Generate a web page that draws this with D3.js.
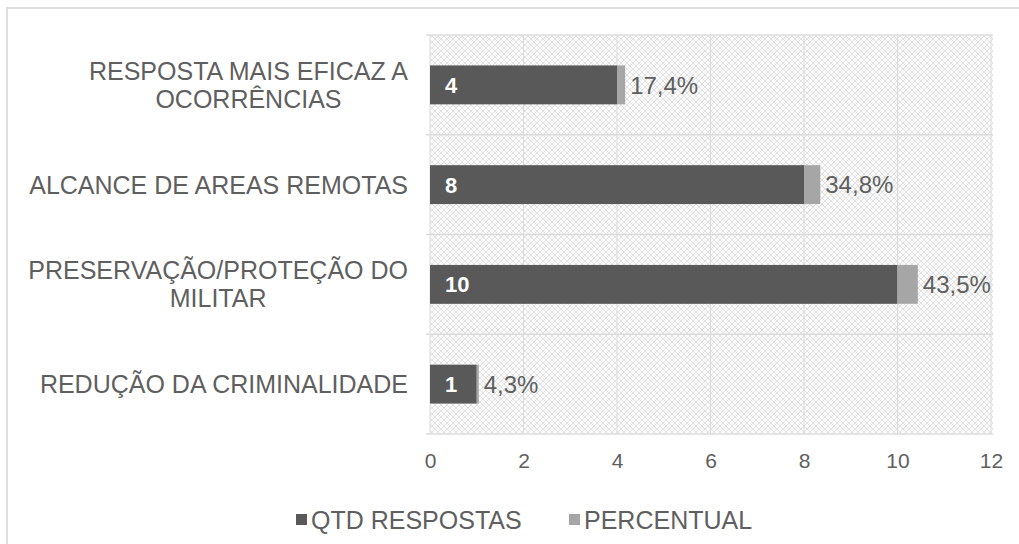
<!DOCTYPE html>
<html>
<head>
<meta charset="utf-8">
<script src="https://cdn.jsdelivr.net/npm/d3@7"></script>
<style>
  html, body { margin: 0; padding: 0; background: #fff; }
  svg { display: block; font-family: "Liberation Sans", Arial, sans-serif; }
</style>
</head>
<body>
<svg id="chart" width="1019" height="544"></svg>
<script>
// categories, top to bottom (each split in the lines shown on the axis)
const categories = [
    ["RESPOSTA MAIS EFICAZ A", "OCORRÊNCIAS"],
    ["ALCANCE DE AREAS REMOTAS"],
    ["PRESERVAÇÃO/PROTEÇÃO DO", "MILITAR"],
    ["REDUÇÃO DA CRIMINALIDADE"]
];
const qtdRespostas = [4, 8, 10, 1];
const percentual = [0.174, 0.348, 0.435, 0.043];
const xTicks = [0, 2, 4, 6, 8, 10, 12];
const seriesNames = ["QTD RESPOSTAS", "PERCENTUAL"];

const width = 1019, height = 544;
const margin = { top: 35, left: 430, right: 28, bottom: 110 };
const colors = ['#595959', '#a6a6a6'];
const textColor = '#5f5f5f';

const svg = d3.select('#chart');

// hatch pattern for the plot area
const defs = svg.append('defs');
const pat = defs.append('pattern')
    .attr('id', 'hatch')
    .attr('patternUnits', 'userSpaceOnUse')
    .attr('width', 6)
    .attr('height', 6);
pat.append('rect').attr('width', 6).attr('height', 6).attr('fill', '#fafafa');
pat.append('path')
    .attr('d', 'M0,6 L6,0 M-1,1 L1,-1 M5,7 L7,5 M0,0 L6,6 M-1,5 L1,7 M5,-1 L7,1')
    .attr('stroke', '#e2e2e2')
    .attr('stroke-width', 1);

// outer chart border
svg.append('rect')
    .attr('x', 7).attr('y', 8)
    .attr('width', width + 20).attr('height', height + 20)
    .attr('fill', 'none')
    .attr('stroke', '#dedede')
    .attr('stroke-width', 2);

const keys = categories.map(c => c.join(' '));
const rows = keys.map((k, i) => ({ key: k, qtd: qtdRespostas[i], pct: percentual[i] }));

const xScale = d3.scaleLinear()
    .domain([0, 12])
    .range([margin.left, 991]);
const yScale = d3.scaleBand()
    .domain(keys)
    .range([margin.top, 434])
    .padding(0);

const x0 = xScale.range()[0], x1 = xScale.range()[1];
const y0 = yScale.range()[0], y1 = yScale.range()[1];

// plot background
svg.append('rect')
    .attr('x', x0).attr('y', y0)
    .attr('width', x1 - x0 + 2).attr('height', y1 - y0)
    .attr('fill', 'url(#hatch)');

// vertical grid lines
svg.append('g')
    .selectAll('line')
    .data(xTicks)
    .join('line')
    .attr('x1', d => xScale(d)).attr('x2', d => xScale(d))
    .attr('y1', y0).attr('y2', y1)
    .attr('stroke', '#dcdcdc')
    .attr('stroke-width', 1);

// horizontal grid lines (category boundaries)
const bounds = keys.map(k => yScale(k)).concat([y1]);
svg.append('g')
    .selectAll('line')
    .data(bounds)
    .join('line')
    .attr('x1', x0 - 4).attr('x2', x1 + 2)
    .attr('y1', d => d).attr('y2', d => d)
    .attr('stroke', '#dcdcdc')
    .attr('stroke-width', 1.5);

// stacked bars
const stack = d3.stack().keys(['qtd', 'pct']);
const series = stack(rows);
const barH = yScale.bandwidth() * 0.39;

svg.append('g')
    .selectAll('g')
    .data(series)
    .join('g')
    .attr('fill', (d, i) => colors[i])
    .selectAll('rect')
    .data(d => d)
    .join('rect')
    .attr('x', d => xScale(d[0]))
    .attr('y', d => yScale(d.data.key) + (yScale.bandwidth() - barH) / 2)
    .attr('width', d => xScale(d[1]) - xScale(d[0]))
    .attr('height', barH);

// value labels inside the dark bars
svg.append('g')
    .selectAll('text')
    .data(rows)
    .join('text')
    .attr('x', xScale(0) + 15)
    .attr('y', d => yScale(d.key) + yScale.bandwidth() / 2)
    .attr('dy', '0.36em')
    .attr('fill', '#ffffff')
    .attr('font-weight', 'bold')
    .attr('font-size', '22px')
    .text(d => d.qtd);

// percent labels after the bars
const fmtPct = v => d3.format('.1%')(v).replace('.', ',');
svg.append('g')
    .selectAll('text')
    .data(rows)
    .join('text')
    .attr('x', d => xScale(d.qtd + d.pct) + 5)
    .attr('y', d => yScale(d.key) + yScale.bandwidth() / 2)
    .attr('dy', '0.36em')
    .attr('fill', textColor)
    .attr('font-size', '24px')
    .text(d => fmtPct(d.pct));

// x axis tick labels
const xAxis = d3.axisBottom(xScale)
    .tickValues(xTicks)
    .tickSize(0)
    .tickPadding(0)
    .tickFormat(d3.format('d'));
const xAxisGroup = svg.append('g')
    .attr('transform', `translate(0,${y1 + 19})`)
    .call(xAxis);
xAxisGroup.select('.domain').remove();
xAxisGroup.selectAll('text')
    .attr('fill', textColor)
    .attr('font-size', '21px')
    .attr('font-family', '"Liberation Sans", Arial, sans-serif');

// category labels: block right aligned, lines centred within the block
const labelRight = 408;
const lineH = 28;
const catG = svg.append('g');
categories.forEach((lines, i) => {
    const cy = yScale(keys[i]) + yScale.bandwidth() / 2;
    const g = catG.append('g');
    const texts = lines.map((line, j) => g.append('text')
        .attr('y', cy + (j - (lines.length - 1) / 2) * lineH)
        .attr('dy', '0.36em')
        .attr('fill', textColor)
        .attr('font-size', '25px')
        .attr('text-anchor', 'middle')
        .text(line));
    const maxW = d3.max(texts, t => t.node().getComputedTextLength());
    texts.forEach(t => t.attr('x', labelRight - maxW / 2));
});

// legend
const legendY = 520;
const legendX = [296, 569];
const legend = svg.append('g');
seriesNames.forEach((name, i) => {
    legend.append('rect')
        .attr('x', legendX[i]).attr('y', legendY - 6)
        .attr('width', 11).attr('height', 11)
        .attr('fill', colors[i]);
    legend.append('text')
        .attr('x', legendX[i] + 15)
        .attr('y', legendY)
        .attr('dy', '0.36em')
        .attr('fill', textColor)
        .attr('font-size', '25px')
        .text(name);
});
</script>
</body>
</html>
